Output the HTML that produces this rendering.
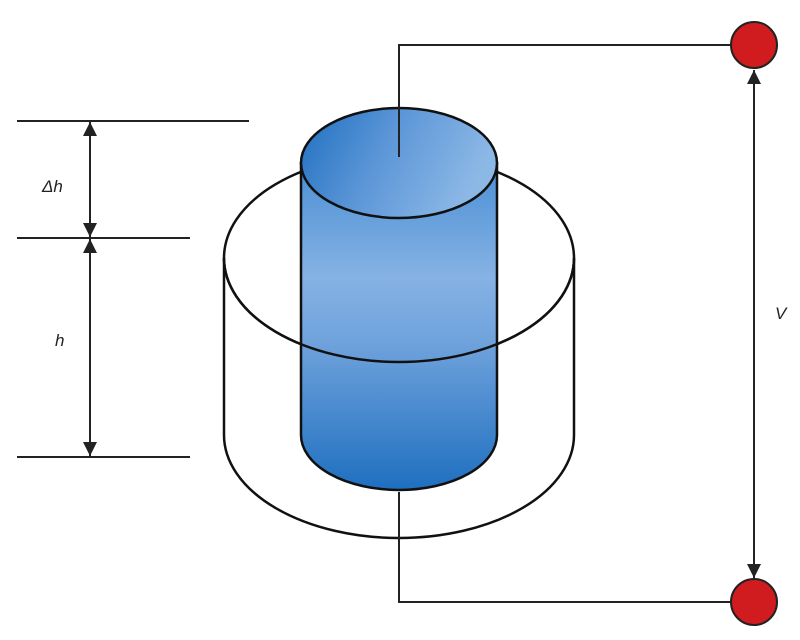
<!DOCTYPE html>
<html><head><style>body{margin:0;background:#fff}svg{display:block}</style></head><body>
<svg width="800" height="640" viewBox="0 0 800 640" xmlns="http://www.w3.org/2000/svg">
<defs>
<linearGradient id="body" x1="0" y1="0" x2="0" y2="1">
<stop offset="0" stop-color="#4a8fd4"/>
<stop offset="0.35" stop-color="#86b2e4"/>
<stop offset="0.55" stop-color="#6fa2dc"/>
<stop offset="1" stop-color="#1f6fc0"/>
</linearGradient>
<linearGradient id="top" x1="0" y1="0" x2="1" y2="0.3">
<stop offset="0" stop-color="#1f6fc0"/>
<stop offset="0.5" stop-color="#5d97d8"/>
<stop offset="1" stop-color="#8cb8e6"/>
</linearGradient>
<marker id="ah" viewBox="0 0 10 10" refX="10" refY="5" markerWidth="7" markerHeight="7" orient="auto-start-reverse"><path d="M0,0 L10,5 L0,10 z" fill="#222"/></marker>
</defs>
<g stroke="#111" stroke-width="2.5" fill="none">
<!-- outer cylinder -->
<path d="M224,258 L224,435 A175,103 0 0 0 574,435 L574,258" fill="#fff"/>
<ellipse cx="399" cy="258" rx="175" ry="104" fill="#fff"/>
<!-- inner cylinder -->
<path d="M301,163 L301,435 A98,55 0 0 0 497,435 L497,163 z" fill="url(#body)"/>
<ellipse cx="399" cy="163" rx="98" ry="55" fill="url(#top)"/>
<!-- outer front arc -->
<path d="M224,258 A175,104 0 0 0 574,258"/>
</g>
<g stroke="#222" stroke-width="2" fill="none">
<path d="M399,157 L399,45 L731,45"/>
<path d="M399,492 L399,602 L731,602"/>
<line x1="754" y1="70" x2="754" y2="578" marker-start="url(#ah)" marker-end="url(#ah)"/>
<line x1="17" y1="121" x2="249" y2="121"/>
<line x1="17" y1="238" x2="190" y2="238"/>
<line x1="17" y1="457" x2="190" y2="457"/>
<line x1="90" y1="122" x2="90" y2="237" marker-start="url(#ah)" marker-end="url(#ah)"/>
<line x1="90" y1="239" x2="90" y2="456" marker-start="url(#ah)" marker-end="url(#ah)"/>
</g>
<circle cx="754" cy="45" r="23" fill="#d01c1f" stroke="#222" stroke-width="2"/>
<circle cx="754" cy="602" r="23" fill="#d01c1f" stroke="#222" stroke-width="2"/>
<g font-family="Liberation Sans, sans-serif" font-size="17" font-style="italic" fill="#222">
<text x="42" y="192">Δh</text>
<text x="55" y="346">h</text>
<text x="775" y="319">V</text>
</g>
</svg>
</body></html>
